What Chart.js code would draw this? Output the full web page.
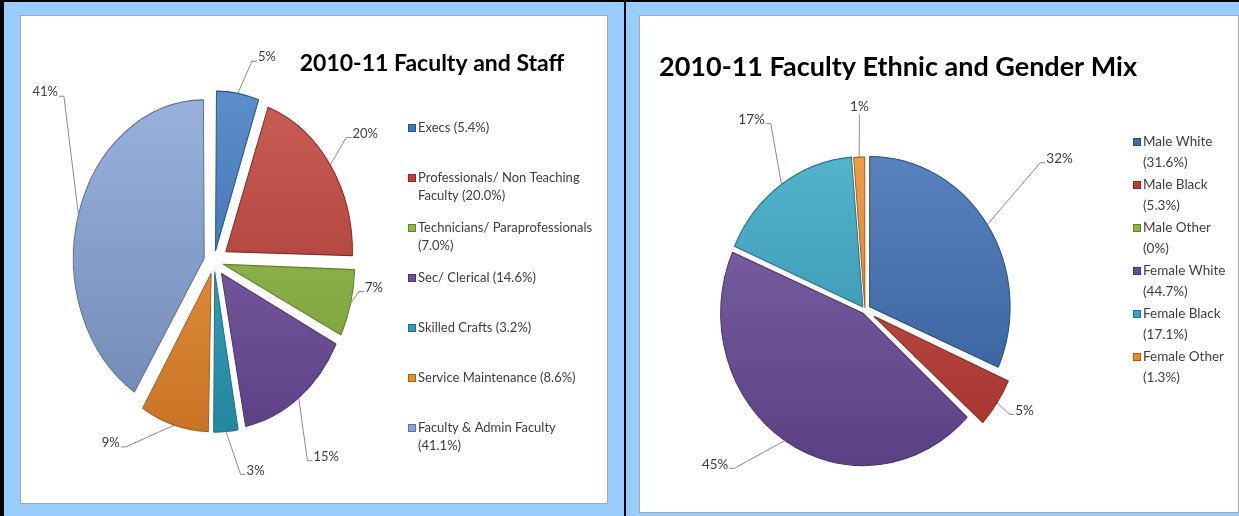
<!DOCTYPE html>
<html>
<head>
<meta charset="utf-8">
<script src="https://cdn.jsdelivr.net/npm/chart.js@4.4.1/dist/chart.umd.min.js"></script>
<style>
  html, body { margin: 0; padding: 0; }
  body { width: 1239px; height: 516px; position: relative; background: #99ccff; overflow: hidden; }
  .rule { position: absolute; background: #000; }
  .panel { position: absolute; background: #fff; border: 1px solid #a8a8a8; }
  .panel canvas { position: absolute; left: 0; top: 0; }
</style>
</head>
<body>
<div class="rule" style="left:0;top:0;width:1239px;height:2px"></div>
<div class="rule" style="left:0;top:0;width:4px;height:516px"></div>
<div class="rule" style="left:624px;top:0;width:2px;height:516px"></div>
<div class="panel" style="left:20px;top:15px;width:586px;height:487px"><canvas id="staff" width="586" height="487"></canvas></div>
<div class="panel" style="left:639px;top:15px;width:598px;height:496px"><canvas id="mix" width="598" height="496"></canvas></div>
<script>
// left chart
const staffTitle = '2010-11 Faculty and Staff'
const staffLabels = ['Execs', 'Professionals/ Non Teaching Faculty', 'Technicians/ Paraprofessionals',
  'Sec/ Clerical', 'Skilled Crafts', 'Service Maintenance', 'Faculty & Admin Faculty']
const staffValues = [5.4, 20.0, 7.0, 14.6, 3.2, 8.6, 41.1]
const staffLegend = [
  ['Execs (5.4%)'],
  ['Professionals/ Non Teaching', 'Faculty (20.0%)'],
  ['Technicians/ Paraprofessionals', '(7.0%)'],
  ['Sec/ Clerical (14.6%)'],
  ['Skilled Crafts (3.2%)'],
  ['Service Maintenance (8.6%)'],
  ['Faculty & Admin Faculty', '(41.1%)']
]
const staffColors = ['#3d79c0', '#c13f38', '#8cb840', '#6e4c9e', '#2aa0bd', '#ec8a2c', '#86a3d6']

// right chart
const mixTitle = '2010-11 Faculty Ethnic and Gender Mix'
const mixLabels = ['Male White', 'Male Black', 'Male Other', 'Female White', 'Female Black', 'Female Other']
const mixValues = [31.6, 5.3, 0, 44.7, 17.1, 1.3]
const mixLegend = [
  ['Male White', '(31.6%)'],
  ['Male Black', '(5.3%)'],
  ['Male Other', '(0%)'],
  ['Female White', '(44.7%)'],
  ['Female Black', '(17.1%)'],
  ['Female Other', '(1.3%)']
]
const mixColors = ['#3a6cb2', '#bf3a32', '#8cb840', '#6b4b9b', '#35a4c3', '#ea8a28']

const FONT = 'Lato, "Open Sans", sans-serif'

function tint(hex, amt) {
  const n = parseInt(hex.slice(1), 16)
  const ch = [n >> 16, (n >> 8) & 255, n & 255].map(v => {
    const t = amt > 0 ? v + (255 - v) * amt : v * (1 + amt)
    return Math.round(t)
  })
  return `rgb(${ch.join(',')})`
}

function sliceFill(colors) {
  return c => {
    const base = colors[c.dataIndex] || colors[0]
    const area = c.chart.chartArea
    if (!area) return base
    const r = c.chart.options.radius
    const cy = (area.top + area.bottom) / 2
    const g = c.chart.ctx.createLinearGradient(0, cy - r, 0, cy + r)
    g.addColorStop(0, tint(base, 0.15))
    g.addColorStop(1, tint(base, -0.15))
    return g
  }
}

// Chart.js moves a slice by offset/4 * (2 - sin(angle)), so turn a wanted shift into an offset
function shiftToOffset(shifts, values) {
  const total = values.reduce((a, b) => a + b, 0)
  return c => {
    const i = c.dataIndex || 0
    const ang = Math.min(Math.PI, values[i] / total * Math.PI * 2)
    return 4 * shifts[i] / (2 - Math.sin(ang))
  }
}

// squash the pie into an upright ellipse
const squash = {
  id: 'squash',
  beforeDatasetsDraw(chart, args, opts) {
    const { ctx, chartArea } = chart
    const cx = (chartArea.left + chartArea.right) / 2
    const cy = (chartArea.top + chartArea.bottom) / 2
    ctx.save()
    ctx.translate(cx, cy)
    ctx.scale(1, opts.ratio)
    ctx.translate(-cx, -cy)
  },
  afterDatasetsDraw(chart) {
    chart.ctx.restore()
  }
}

// percentage labels with leader lines
const callouts = {
  id: 'callouts',
  afterDraw(chart, args, opts) {
    const { ctx } = chart
    const ratio = chart.options.plugins.squash.ratio
    const values = chart.data.datasets[0].data
    ctx.save()
    ctx.font = `${opts.size}px ${FONT}`
    ctx.textAlign = 'center'
    ctx.textBaseline = 'middle'
    chart.getDatasetMeta(0).data.forEach((arc, i) => {
      if (!values[i]) return
      const { x, y, startAngle, endAngle, outerRadius } = arc
      const mid = (startAngle + endAngle) / 2
      const r = outerRadius + opts.shifts[i]
      const ax = x + Math.cos(mid) * r
      const ay = y + Math.sin(mid) * r * ratio
      const [u, v] = opts.spots[i]
      const lx = x + u * outerRadius
      const ly = y + v * outerRadius * ratio
      const text = Math.round(values[i]) + '%'
      const w = ctx.measureText(text).width

      ctx.strokeStyle = '#8c8c8c'
      ctx.lineWidth = 1
      ctx.beginPath()
      if (ax < lx - w / 2 - 2) {
        ctx.moveTo(lx - w / 2 - 1, ly + 4)
        ctx.lineTo(lx - w / 2 - 6, ly + 4)
      } else if (ax > lx + w / 2 + 2) {
        ctx.moveTo(lx + w / 2 + 1, ly + 4)
        ctx.lineTo(lx + w / 2 + 6, ly + 4)
      } else {
        ctx.moveTo(lx, ay > ly ? ly + 8 : ly - 8)
      }
      ctx.lineTo(ax, ay)
      ctx.stroke()

      ctx.fillStyle = '#404040'
      ctx.fillText(text, lx, ly)
    })
    ctx.restore()
  }
}

// title and legend drawn on the canvas
const frame = {
  id: 'frame',
  afterDraw(chart, args, opts) {
    const { ctx } = chart
    ctx.save()
    ctx.fillStyle = '#000'
    ctx.font = `bold ${opts.titleSize}px ${FONT}`
    ctx.textAlign = opts.titleAlign
    ctx.textBaseline = 'middle'
    ctx.fillText(opts.title, opts.titleX, opts.titleY)

    ctx.font = `${opts.legendSize}px ${FONT}`
    ctx.textAlign = 'left'
    opts.legend.forEach((lines, i) => {
      const top = opts.legendY + i * opts.legendStep
      ctx.fillStyle = opts.colors[i]
      ctx.fillRect(opts.legendX, top - 4, 8, 8)
      ctx.strokeStyle = tint(opts.colors[i], -0.3)
      ctx.lineWidth = 1
      ctx.strokeRect(opts.legendX + 0.5, top - 3.5, 7, 7)
      ctx.fillStyle = '#404040'
      lines.forEach((line, k) => {
        ctx.fillText(line, opts.legendX + 10, top + k * opts.lineHeight)
      })
    })
    ctx.restore()
  }
}

// chart area = square of side 2r around (cx, cy), so the pie sits exactly there
function boxAround(cx, cy, r, w, h) {
  return { left: cx - r, right: w - cx - r, top: cy - r, bottom: h - cy - r }
}

const staffShifts = [15, 15, 15, 15, 15, 15, 15]

new Chart('staff', {
  type: 'pie',
  data: {
    labels: staffLabels,
    datasets: [{
      data: staffValues,
      backgroundColor: sliceFill(staffColors),
      borderColor: staffColors.map(c => tint(c, -0.3)),
      borderWidth: 1,
      offset: shiftToOffset(staffShifts, staffValues),
      clip: false
    }]
  },
  options: {
    responsive: false,
    animation: false,
    radius: 126,
    layout: { padding: boxAround(193, 245.5, 126, 586, 487) },
    events: [],
    plugins: {
      legend: { display: false },
      tooltip: { enabled: false },
      squash: { ratio: 1.21 },
      callouts: {
        size: 13,
        shifts: staffShifts,
        spots: [[0.42, -1.34], [1.20, -0.84], [1.27, 0.17], [0.89, 1.28], [0.33, 1.37], [-0.82, 1.19], [-1.34, -1.11]]
      },
      frame: {
        title: staffTitle, titleSize: 23, titleAlign: 'center', titleX: 411, titleY: 48,
        legend: staffLegend, colors: staffColors, legendSize: 13,
        legendX: 387, legendY: 112, legendStep: 50, lineHeight: 18
      }
    }
  },
  plugins: [squash, callouts, frame]
})

const mixShifts = [6, 18, 0, 6, 4, 3]

new Chart('mix', {
  type: 'pie',
  data: {
    labels: mixLabels,
    datasets: [{
      data: mixValues,
      backgroundColor: sliceFill(mixColors),
      borderColor: mixColors.map(c => tint(c, -0.3)),
      borderWidth: 1,
      offset: shiftToOffset(mixShifts, mixValues),
      clip: false
    }]
  },
  options: {
    responsive: false,
    animation: false,
    radius: 140,
    layout: { padding: boxAround(225, 294, 140, 598, 496) },
    events: [],
    plugins: {
      legend: { display: false },
      tooltip: { enabled: false },
      squash: { ratio: 1.07 },
      callouts: {
        size: 13.5,
        shifts: mixShifts,
        spots: [[1.39, -1.01], [1.14, 0.67], [0, 0], [-1.07, 1.03], [-0.81, -1.27], [-0.04, -1.36]]
      },
      frame: {
        title: mixTitle, titleSize: 27, titleAlign: 'left', titleX: 19, titleY: 51,
        legend: mixLegend, colors: mixColors, legendSize: 13.5,
        legendX: 493, legendY: 126, legendStep: 43, lineHeight: 21
      }
    }
  },
  plugins: [squash, callouts, frame]
})
</script>
</body>
</html>
